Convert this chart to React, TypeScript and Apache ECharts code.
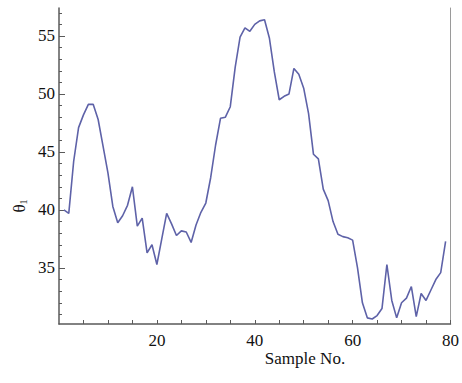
import React, { useEffect, useRef } from "react";
import * as echarts from "echarts";

// θ1 per sample (sample numbers 1..79)
const theta1: number[] = [
  40.0, 39.7, 44.2, 47.1, 48.2, 49.1, 49.1, 47.8, 45.5, 43.2,
  40.3, 38.9, 39.5, 40.4, 42.0, 38.6, 39.3, 36.3, 37.0, 35.3,
  37.5, 39.7, 38.8, 37.8, 38.2, 38.1, 37.2, 38.7, 39.8, 40.6,
  42.8, 45.6, 47.9, 48.0, 48.9, 52.3, 54.9, 55.7, 55.4, 56.0,
  56.3, 56.4, 54.8, 51.9, 49.5, 49.8, 50.0, 52.2, 51.7, 50.5,
  48.3, 44.8, 44.4, 41.8, 40.8, 39.0, 37.9, 37.7, 37.6, 37.4,
  35.0, 32.0, 30.7, 30.6, 30.9, 31.5, 35.3, 32.2, 30.7, 32.0,
  32.4, 33.4, 30.8, 32.8, 32.2, 33.1, 34.0, 34.6, 37.3,
];

const xLabelValues = [20, 40, 60, 80];
const xTickValues = [5, 10, 15, 20, 25, 30, 35, 40, 45, 50, 55, 60, 65, 70, 75, 80];
const yLabelValues = [35, 40, 45, 50, 55];
const yMinorTickValues = [
  31, 32, 33, 34, 35, 36, 37, 38, 39, 40, 41, 42, 43, 44, 45, 46, 47, 48, 49,
  50, 51, 52, 53, 54, 55, 56, 57,
];

const Y_MIN = 30.17;
const Y_MAX = 57.41;
const FONT = "Liberation Serif";
const AXIS_COLOR = "#5a5a5a";

export default function App() {
  const ref = useRef<HTMLDivElement>(null);

  useEffect(() => {
    if (!ref.current) return;
    const chart = echarts.init(ref.current, undefined, { renderer: "svg" });
    const data = theta1.map((v, i) => [i + 1, v]);

    chart.setOption({
      animation: false,
      backgroundColor: "#ffffff",
      grid: { left: 59, top: 8, width: 401, height: 316, containLabel: false },
      xAxis: {
        type: "value",
        min: 0,
        max: 80,
        axisLine: { show: true, lineStyle: { color: AXIS_COLOR, width: 1.5 } },
        axisTick: {
          show: true,
          inside: true,
          length: 4,
          customValues: xTickValues,
          lineStyle: { color: AXIS_COLOR, width: 1 },
        },
        axisLabel: {
          customValues: xLabelValues,
          color: "#111",
          fontFamily: FONT,
          fontSize: 17,
          margin: 8,
        },
        splitLine: { show: false },
      },
      yAxis: [
        {
          type: "value",
          min: Y_MIN,
          max: Y_MAX,
          position: "left",
          axisLine: { show: true, lineStyle: { color: AXIS_COLOR, width: 1.5 } },
          axisTick: {
            show: true,
            inside: true,
            length: 6,
            customValues: yLabelValues,
            lineStyle: { color: AXIS_COLOR, width: 1 },
          },
          axisLabel: {
            customValues: yLabelValues,
            color: "#111",
            fontFamily: FONT,
            fontSize: 17,
            margin: 4,
          },
          splitLine: { show: false },
        },
        {
          type: "value",
          min: Y_MIN,
          max: Y_MAX,
          position: "left",
          offset: 0,
          axisLine: { show: false },
          axisTick: {
            show: true,
            inside: true,
            length: 3,
            customValues: yMinorTickValues,
            lineStyle: { color: AXIS_COLOR, width: 1 },
          },
          axisLabel: { show: false },
          splitLine: { show: false },
        },
        {
          type: "value",
          min: Y_MIN,
          max: Y_MAX,
          position: "right",
          offset: 0,
          axisLine: { show: true, lineStyle: { color: "#9a9a9a", width: 1 } },
          axisTick: { show: false },
          axisLabel: { show: false },
          splitLine: { show: false },
        },
      ],
      series: [
        {
          type: "line",
          data,
          yAxisIndex: 0,
          showSymbol: false,
          symbol: "none",
          clip: true,
          lineStyle: { color: "#5e62a8", width: 1.6 },
        },
      ],
      graphic: [
        {
          type: "text",
          x: 19,
          y: 206,
          rotation: Math.PI / 2,
          style: {
            text: "{a|θ}{b|1}",
            align: "center",
            verticalAlign: "middle",
            fill: "#111",
            rich: {
              a: { fontFamily: FONT, fontSize: 17, fill: "#111" },
              b: { fontFamily: FONT, fontSize: 10, fill: "#111", padding: [8, 0, 0, 0] },
            },
          },
        },
        {
          type: "text",
          x: 305,
          y: 358,
          style: {
            text: "Sample No.",
            align: "center",
            verticalAlign: "middle",
            fontFamily: FONT,
            fontSize: 17,
            fill: "#111",
          },
        },
      ],
    });

    return () => chart.dispose();
  }, []);

  return (
    <div
      ref={ref}
      style={{ position: "fixed", left: 0, top: 0, width: 462, height: 383 }}
    />
  );
}
